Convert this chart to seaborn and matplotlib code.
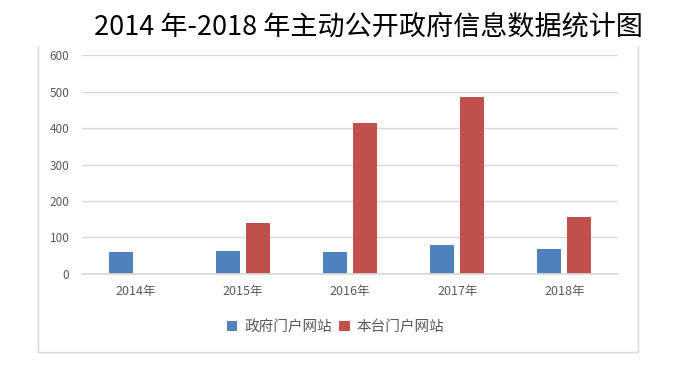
import matplotlib
matplotlib.use('Agg')
import matplotlib.pyplot as plt
from matplotlib.lines import Line2D
import seaborn as sns
import pandas as pd

# dati
years = ['2014年', '2015年', '2016年', '2017年', '2018年']
gov_portal = [60, 63, 60, 79, 68]
station_portal = [0, 140, 414, 485, 156]
series_names = ['政府门户网站', '本台门户网站']

df = pd.DataFrame({
    'year': years * 2,
    'value': gov_portal + station_portal,
    'series': [series_names[0]] * len(years) + [series_names[1]] * len(years),
})

sns.set_theme(style='white')
plt.rcParams['font.family'] = ['Noto Sans CJK SC', 'DejaVu Sans']

fig = plt.figure(figsize=(6.85, 3.76), dpi=100)
ax = fig.add_axes([0.1197, 0.2713, 0.7825, 0.5824])

sns.barplot(data=df, x='year', y='value', hue='series', hue_order=series_names,
            palette=['#4F81BD', '#C0504D'], width=0.56, gap=0.2,
            saturation=1, linewidth=0, edgecolor='none', ax=ax, legend=True)

ax.set_ylim(0, 600)
ax.set_yticks(range(0, 601, 100))
ax.set_xlim(-0.5, 4.5)
ax.grid(axis='y', color='#d9d9d9', linewidth=1)
ax.set_axisbelow(True)
for s in ['top', 'right', 'left']:
    ax.spines[s].set_visible(False)
ax.spines['bottom'].set_color('#d9d9d9')
ax.tick_params(axis='y', length=0, labelsize=8.5, labelcolor='#595959', pad=9)
ax.tick_params(axis='x', length=0, labelsize=9, labelcolor='#595959', pad=8)
ax.set_xlabel('')
ax.set_ylabel('')

handles, labels = ax.get_legend_handles_labels()
ax.legend_.remove()
fig.legend(handles, labels, loc='center', bbox_to_anchor=(0.49, 0.13), ncol=2,
           frameon=False, fontsize=10.5, handlelength=0.7, handleheight=0.7,
           handletextpad=0.5, columnspacing=0.5, labelcolor='#595959')

# cornice del riquadro (senza lato superiore)
x0, x1 = 37.5 / 685, 637.5 / 685
y_top, y_bot = 1 - 46 / 376, 1 - 352 / 376
for xs, ys in [([x0, x0], [y_top, y_bot]), ([x1, x1], [y_top, y_bot]), ([x0, x1], [y_bot, y_bot])]:
    fig.add_artist(Line2D(xs, ys, color='#d9d9d9', linewidth=1))

fig.text(368 / 685, 1 - 27 / 376, '2014 年-2018 年主动公开政府信息数据统计图',
         ha='center', va='center', fontsize=19.5, color='black')

fig.savefig('out.png', dpi=100, facecolor='white')
